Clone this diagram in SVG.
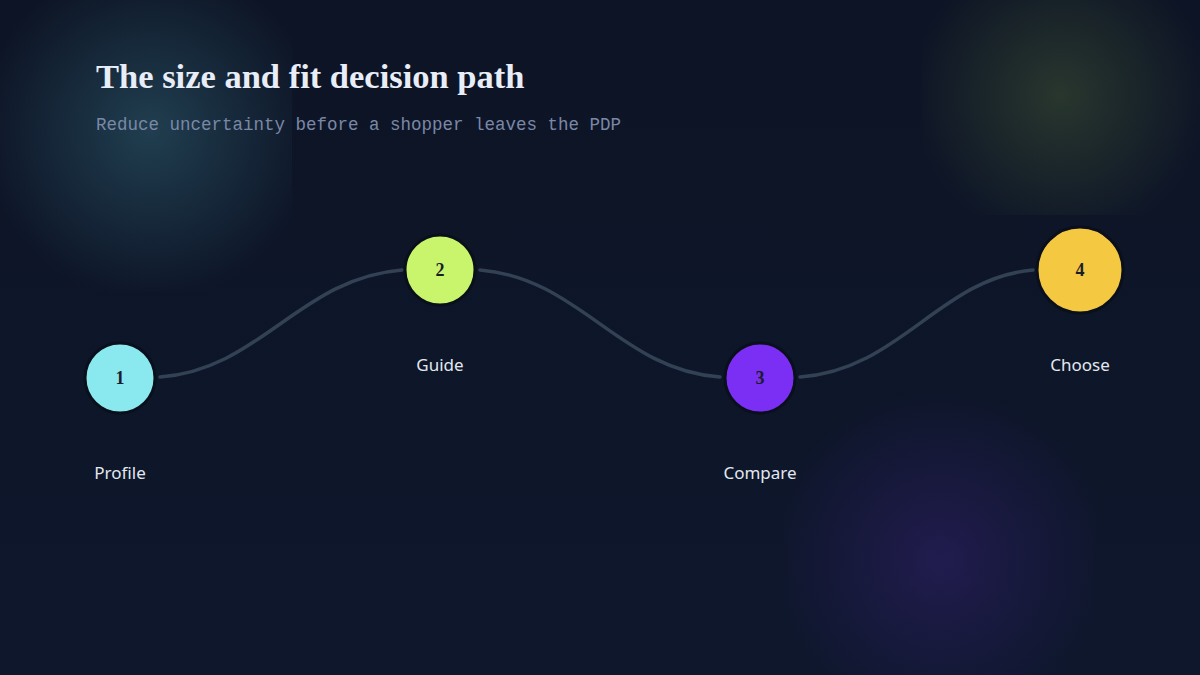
<svg xmlns="http://www.w3.org/2000/svg" width="1200" height="675" viewBox="0 0 1200 675">
<defs>
<radialGradient id="g1" cx="150" cy="130" r="170" gradientUnits="userSpaceOnUse">
<stop offset="0" stop-color="#2a5566" stop-opacity="0.65"/>
<stop offset="1" stop-color="#2a5566" stop-opacity="0"/>
</radialGradient>
<radialGradient id="g2" cx="1060" cy="95" r="150" gradientUnits="userSpaceOnUse">
<stop offset="0" stop-color="#3a4d33" stop-opacity="0.6"/>
<stop offset="1" stop-color="#3a4d33" stop-opacity="0"/>
</radialGradient>
<radialGradient id="g3" cx="940" cy="560" r="170" gradientUnits="userSpaceOnUse">
<stop offset="0" stop-color="#2e1f66" stop-opacity="0.6"/>
<stop offset="1" stop-color="#2e1f66" stop-opacity="0"/>
</radialGradient>
<linearGradient id="bg" x1="0" y1="0" x2="0" y2="1">
<stop offset="0" stop-color="#0d1425"/>
<stop offset="1" stop-color="#0e172c"/>
</linearGradient>
</defs>
<style>
.title{font-family:"Liberation Serif",serif;font-weight:bold;font-size:34.5px;fill:#e8edf8}
.sub{font-family:"Liberation Mono",monospace;font-size:17.5px;fill:#7a88a6}
.lbl{font-family:"Noto Sans","Open Sans",sans-serif;font-size:17px;fill:#e2e8f0;text-anchor:middle}
.num{font-family:"Liberation Serif",serif;font-weight:bold;font-size:18px;fill:#1a1d2a;text-anchor:middle}
.node circle{stroke:#0a0f1c;stroke-width:3}
.conn path{fill:none;stroke:#334155;stroke-width:3.5;stroke-linecap:round}
</style>
<rect width="1200" height="675" fill="url(#bg)"/>
<rect x="0" y="0" width="292" height="292" fill="url(#g1)"/>
<rect x="922" y="0" width="278" height="215" fill="url(#g2)"/>
<rect x="785" y="395" width="310" height="280" fill="url(#g3)"/>
<text class="title" x="96" y="88">The size and fit decision path</text>
<text class="sub" x="96" y="130">Reduce uncertainty before a shopper leaves the PDP</text>
<g class="conn">
<path d="M160 377 C260 370 300 278 402 270"/>
<path d="M480 270 C580 278 620 370 720 377"/>
<path d="M800 377 C900 370 940 278 1033 270"/>
</g>
<g id="node1" class="node">
<circle cx="120" cy="378" r="35" fill="#8ae8ef"/>
<text class="num" x="120" y="384">1</text>
<text class="lbl" x="120" y="479">Profile</text>
</g>
<g id="node2" class="node">
<circle cx="440" cy="270" r="35" fill="#c8f56b"/>
<text class="num" x="440" y="276">2</text>
<text class="lbl" x="440" y="371">Guide</text>
</g>
<g id="node3" class="node">
<circle cx="760" cy="378" r="35" fill="#7b2ff4"/>
<text class="num" x="760" y="384">3</text>
<text class="lbl" x="760" y="479">Compare</text>
</g>
<g id="node4" class="node">
<circle cx="1080" cy="270" r="43" fill="#f5c842"/>
<text class="num" x="1080" y="276">4</text>
<text class="lbl" x="1080" y="371">Choose</text>
</g>
</svg>
